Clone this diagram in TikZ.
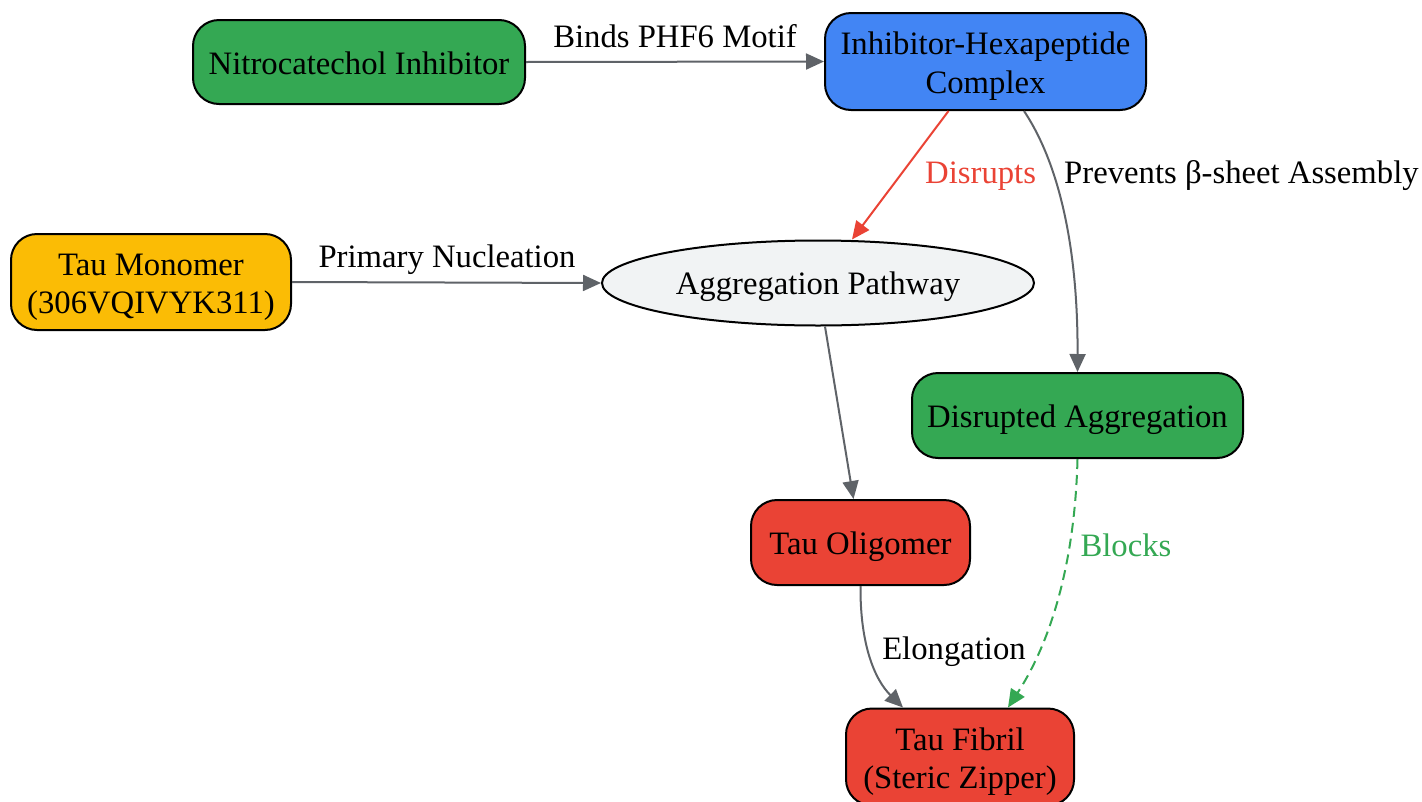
\documentclass[tikz,border=0pt]{standalone}
\usepackage{fontspec}
\setmainfont{Liberation Serif}
\usetikzlibrary{arrows.meta,shapes.geometric}
\definecolor{ggreen}{HTML}{34A853}
\definecolor{gblue}{HTML}{4285F4}
\definecolor{gyellow}{HTML}{FBBC05}
\definecolor{gred}{HTML}{EA4335}
\definecolor{glight}{HTML}{F1F3F4}
\definecolor{ggray}{HTML}{5F6368}
% single line: baseline at node centre + 12pt
\newcommand\oneline[1]{\raisebox{-12pt}[0pt][0pt]{#1}}
% two lines: last baseline at node centre + 31.5pt
\newcommand\twolines[2]{\raisebox{-31.5pt}[0pt][0pt]{\begin{tabular}[b]{@{}c@{}}#1\\#2\end{tabular}}}
\tikzset{
  box/.style={draw=black, line width=2pt, rounded corners=26pt, inner sep=0pt, align=center,
    font=\fontsize{32.7}{38.5}\selectfont},
  oval/.style={draw=black, line width=2pt, ellipse, inner sep=0pt, align=center,
    font=\fontsize{32.7}{38.5}\selectfont},
  lbl/.style={inner sep=0pt, anchor=base, font=\fontsize{32.7}{38.5}\selectfont},
  conn/.style={draw=ggray, line width=2pt, -{Triangle[length=18pt,width=16pt]}},
}
\begin{document}
\begin{tikzpicture}[x=1pt,y=-1pt]
\useasboundingbox (0,0) rectangle (1422,801);
% nodes
\node[box, fill=ggreen, minimum width=332pt, minimum height=84pt] (nitro) at (359,62) {\oneline{Nitrocatechol Inhibitor}};
\node[box, fill=gblue, minimum width=321pt, minimum height=97pt] (complex) at (985.5,61.5) {\twolines{Inhibitor-Hexapeptide}{Complex}};
\node[box, fill=gyellow, minimum width=280pt, minimum height=96pt] (mono) at (151,282) {\twolines{Tau Monomer}{(306VQIVYK311)}};
\node[oval, fill=glight, minimum width=432pt, minimum height=85pt] (agg) at (818,283) {\raisebox{-11pt}[0pt][0pt]{Aggregation Pathway}};
\node[box, fill=ggreen, minimum width=331pt, minimum height=85pt] (disr) at (1077.5,415.5) {\oneline{Disrupted Aggregation}};
\node[box, fill=gred, minimum width=219pt, minimum height=85pt] (olig) at (860.5,542.5) {\oneline{Tau Oligomer}};
\node[box, fill=gred, minimum width=228pt, minimum height=97pt] (fibril) at (960,757) {\twolines{Tau Fibril}{(Steric Zipper)}};
% edges
\draw[conn] (nitro.east) -- (complex.west);
\node[lbl] (l1) at (675,47) {Binds PHF6 Motif};
\draw[conn, draw=gred] ([xshift=-37pt]complex.south) -- ([xshift=34pt]agg.north);
\node[lbl, anchor=base west, text=gred] (l2) at (925,183.5) {Disrupts};
\draw[conn] ([xshift=38.5pt]complex.south) .. controls (1060,165) and (1078,250) .. (disr.north);
\node[lbl, anchor=base west] (l3) at (1064,183.5) {Prevents β-sheet Assembly};
\draw[conn] (mono.east) -- (agg.west);
\node[lbl] (l4) at (447,267.5) {Primary Nucleation};
\draw[conn] ([xshift=7pt]agg.south) -- ([xshift=-7pt]olig.north);
\draw[conn] (olig.south) .. controls (860,645) and (875,680) .. ([xshift=-57pt]fibril.north);
\node[lbl] (l5) at (954,659.5) {Elongation};
\draw[conn, draw=ggreen, dash pattern=on 10pt off 6pt] (disr.south) .. controls (1075,560) and (1052,640) .. ([xshift=48pt]fibril.north);
\node[lbl, text=ggreen] (l6) at (1126,556) {Blocks};
\end{tikzpicture}
\end{document}
